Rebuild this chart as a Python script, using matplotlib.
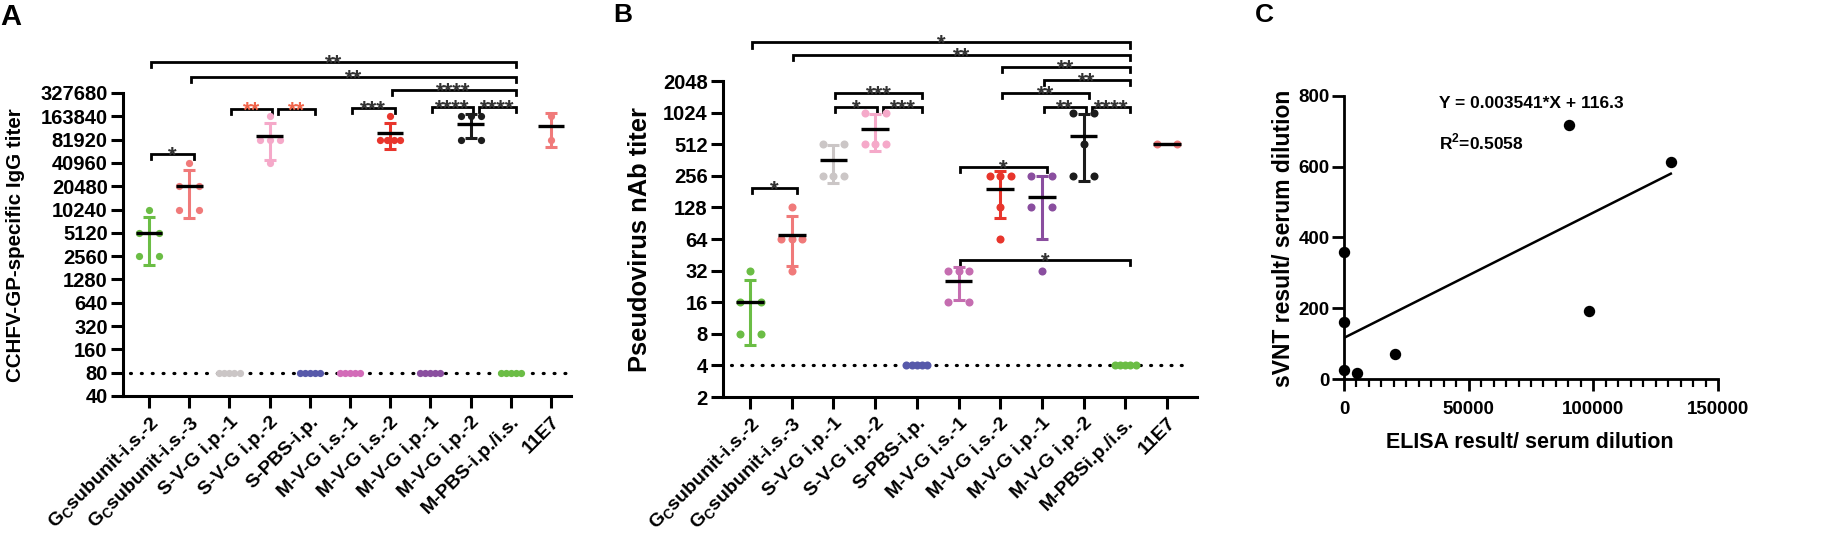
import matplotlib
matplotlib.use("Agg")
import matplotlib.pyplot as plt
import numpy as np

plt.rcParams['font.family'] = ['Liberation Sans', 'DejaVu Sans']
plt.rcParams['font.weight'] = 'bold'
plt.rcParams['axes.labelweight'] = 'bold'
plt.rcParams['mathtext.fontset'] = 'custom'
plt.rcParams['mathtext.rm'] = 'Liberation Sans'
plt.rcParams['mathtext.bf'] = 'Liberation Sans:bold'

# group names
names_a = ['G$_\\mathrm{C}$subunit-i.s.-2', 'G$_\\mathrm{C}$subunit-i.s.-3', 'S-V-G i.p.-1',
           'S-V-G i.p.-2', 'S-PBS-i.p.', 'M-V-G i.s.-1', 'M-V-G i.s.-2', 'M-V-G i.p.-1',
           'M-V-G i.p.-2', 'M-PBS-i.p./i.s.', '11E7']
names_b = names_a[:9] + ['M-PBSi.p./i.s.', '11E7']

colors_a = ['#6bbd45', '#f07a7a', '#cbc6c6', '#f5a9c9', '#5759aa', '#d36bb8',
            '#e8352c', '#8a4e9f', '#1c1c1c', '#6bbd45', '#f07a7a']
colors_b = ['#6bbd45', '#f07a7a', '#cbc6c6', '#f5a9c9', '#5759aa', '#c56db0',
            '#e8352c', '#8a4e9f', '#1c1c1c', '#6bbd45', '#f07a7a']

# panel A: IgG titers per mouse
elisa_titer = [
    [10240, 5120, 5120, 2560, 2560],
    [40960, 20480, 20480, 10240, 10240],
    [80, 80, 80, 80, 80],
    [163840, 81920, 81920, 81920, 40960],
    [80, 80, 80, 80, 80],
    [80, 80, 80, 80, 80],
    [163840, 81920, 81920, 81920, 81920],
    [80, 80, 80, 80, 80],
    [163840, 163840, 163840, 81920, 81920],
    [80, 80, 80, 80, 80],
    [163840, 81920],
]
elisa_lod = 80
elisa_ticks = [40, 80, 160, 320, 640, 1280, 2560, 5120, 10240, 20480,
               40960, 81920, 163840, 327680]

# panel B: pseudovirus nAb titers per mouse
nab_titer = [
    [32, 16, 16, 8, 8],
    [128, 64, 64, 64, 32],
    [512, 512, 256, 256, 256],
    [1024, 1024, 512, 512, 512],
    [4, 4, 4, 4, 4],
    [32, 32, 32, 16, 16],
    [256, 256, 256, 128, 64],
    [256, 256, 128, 128, 32],
    [1024, 1024, 512, 256, 256],
    [4, 4, 4, 4, 4],
    [512, 512],
]
nab_lod = 4
nab_ticks = [2, 4, 8, 16, 32, 64, 128, 256, 512, 1024, 2048]

# significance: (group i, group j, level in axes fraction, label, star colour)
sig_a = [
    (0, 9, 1.102, '**', '#333333'),
    (1, 9, 1.053, '**', '#333333'),
    (6, 9, 1.010, '****', '#333333'),
    (7, 8, 0.954, '****', '#333333'),
    (8, 9, 0.954, '****', '#333333'),
    (5, 6, 0.950, '***', '#333333'),
    (2, 3, 0.947, '**', '#f0644a'),
    (3, 4, 0.947, '**', '#f0644a'),
    (0, 1, 0.799, '*', '#333333'),
]
sig_b = [
    (0, 9, 1.123, '*', '#333333'),
    (1, 9, 1.082, '**', '#333333'),
    (6, 9, 1.044, '**', '#333333'),
    (7, 9, 1.003, '**', '#333333'),
    (6, 8, 0.962, '**', '#333333'),
    (7, 8, 0.918, '**', '#333333'),
    (8, 9, 0.918, '****', '#333333'),
    (2, 4, 0.962, '***', '#333333'),
    (2, 3, 0.918, '*', '#333333'),
    (3, 4, 0.918, '***', '#333333'),
    (0, 1, 0.661, '*', '#333333'),
    (5, 7, 0.728, '*', '#333333'),
    (5, 9, 0.434, '*', '#333333'),
]

# panel C: group means
elisa_mean = [0, 0, 0, 5120, 20480, 90112, 98304, 131072]
svnt_mean = [358.4, 160, 25.6, 16, 70.4, 716.8, 192, 614.4]
fit_slope = 0.003541
fit_icpt = 116.3


def dot_panel(ax, data, colors, lod, ms):
    for i, (vals, c) in enumerate(zip(data, colors)):
        vals = np.array(vals, float)
        xs = np.zeros(len(vals))
        for v in np.unique(vals):
            idx = np.where(vals == v)[0]
            if len(idx) > 1:
                xs[idx] = np.linspace(-0.25, 0.25, len(idx))
        ax.plot(i + xs, vals, 'o', color=c, ms=ms, mew=0, zorder=3, clip_on=False)
        if np.all(vals == lod):
            continue
        m = vals.mean()
        sd = vals.std(ddof=1)
        ax.errorbar(i, m, yerr=sd, fmt='none', ecolor=c, elinewidth=2.2,
                    capsize=4.3, capthick=2.2, zorder=4)
        ax.hlines(m, i - 0.33, i + 0.33, color='k', lw=2.4, zorder=5)


def draw_sig(ax, sig, fs):
    tr = ax.get_xaxis_transform()
    drop = 0.017
    for i, j, lvl, lab, col in sig:
        x0, x1 = i + 0.04, j + 0.12
        for k in sig:
            if k[2] == lvl and k[1] == i:
                x0 = i + 0.2
            if k[2] == lvl and k[0] == j:
                x1 = j + 0.05
        ax.plot([x0, x0, x1, x1], [lvl - drop, lvl, lvl, lvl - drop], color='k',
                lw=2.0, transform=tr, clip_on=False, solid_joinstyle='miter')
        ax.annotate(lab, ((x0 + x1) / 2, lvl), xycoords=tr, xytext=(0, -5.8),
                    textcoords='offset points', ha='center', va='baseline',
                    fontsize=fs, color=col, annotation_clip=False)


def style_axis(ax, ticks, names, xmax):
    ax.set_yscale('log', base=2)
    ax.set_ylim(ticks[0], ticks[-1])
    ax.set_yticks(ticks)
    ax.set_yticklabels([str(t) for t in ticks])
    ax.minorticks_off()
    ax.set_xlim(-0.65, xmax)
    ax.set_xticks(range(len(names)))
    ax.set_xticklabels(names, rotation=45, ha='right', va='top', rotation_mode='anchor')
    for s in ['top', 'right']:
        ax.spines[s].set_visible(False)
    for s in ['left', 'bottom']:
        ax.spines[s].set_linewidth(2.2)
    ax.tick_params(axis='y', width=2.2, length=9, labelsize=14.5, pad=2)
    ax.tick_params(axis='x', width=2.2, length=8.5, labelsize=14, pad=4)


fig = plt.figure(figsize=(18.48, 5.46), dpi=100)

# A
ax_a = fig.add_axes([0.06656, 0.27473, 0.24242, 0.55495])
ax_a.plot([-0.48, 10.45], [elisa_lod, elisa_lod], color='k', lw=2.3,
          linestyle=(0, (0.3, 3.1)), dash_capstyle='round', zorder=1)
dot_panel(ax_a, elisa_titer, colors_a, elisa_lod, 5.2)
style_axis(ax_a, elisa_ticks, names_a, 10.5)
draw_sig(ax_a, sig_a, 16)
fig.text(16 / 1848, 1 - 245 / 546, 'CCHFV-GP-specific IgG titer', rotation=90,
         ha='center', va='center', fontsize=14.8)
fig.text(0.0, 0.995, 'A', ha='left', va='top', fontsize=21)

# B
ax_b = fig.add_axes([0.39123, 0.27289, 0.25649, 0.57875])
ax_b.plot([-0.45, 10.47], [nab_lod, nab_lod], color='k', lw=2.3,
          linestyle=(0, (0.3, 2.9)), dash_capstyle='round', zorder=1)
dot_panel(ax_b, nab_titer, colors_b, nab_lod, 5.8)
style_axis(ax_b, nab_ticks, names_b, 10.72)
draw_sig(ax_b, sig_b, 16)
fig.text(640 / 1848, 1 - 240 / 546, 'Pseudovirus nAb titer', rotation=90,
         ha='center', va='center', fontsize=18.4)
fig.text(613 / 1848, 0.995, 'B', ha='left', va='top', fontsize=19)

# C
ax_c = fig.add_axes([0.72727, 0.30586, 0.20238, 0.51832])
ax_c.plot(elisa_mean, svnt_mean, 'o', color='k', ms=7.2, clip_on=False, zorder=3)
xf = np.array([min(elisa_mean), max(elisa_mean)])
ax_c.plot(xf, fit_slope * xf + fit_icpt, color='k', lw=1.8)
ax_c.set_xlim(0, 150000)
ax_c.set_ylim(0, 800)
ax_c.set_xticks([0, 50000, 100000, 150000])
ax_c.set_xticks(np.arange(0, 150001, 5000), minor=True)
ax_c.set_yticks([0, 200, 400, 600, 800])
for s in ['top', 'right']:
    ax_c.spines[s].set_visible(False)
for s in ['left', 'bottom']:
    ax_c.spines[s].set_linewidth(2.0)
ax_c.tick_params(axis='both', which='major', width=2.0, length=8.5, labelsize=13.5)
ax_c.tick_params(axis='y', pad=2)
ax_c.tick_params(axis='x', which='major', pad=7)
ax_c.tick_params(axis='x', which='minor', width=1.6, length=5.5)
ax_c.text(0.254, 0.975, 'Y = 0.003541*X + 116.3', transform=ax_c.transAxes,
          ha='left', va='center', fontsize=12.5)
ax_c.text(0.254, 0.837, 'R$^\\mathbf{2}$=0.5058', transform=ax_c.transAxes,
          ha='left', va='center', fontsize=12.5)
fig.text(1283 / 1848, 1 - 238 / 546, 'sVNT result/ serum dilution', rotation=90,
         ha='center', va='center', fontsize=16.5)
fig.text(1530 / 1848, 1 - 443 / 546, 'ELISA result/ serum dilution',
         ha='center', va='center', fontsize=15.5)
fig.text(1255 / 1848, 0.995, 'C', ha='left', va='top', fontsize=19)

fig.savefig('out.png', dpi=100)
